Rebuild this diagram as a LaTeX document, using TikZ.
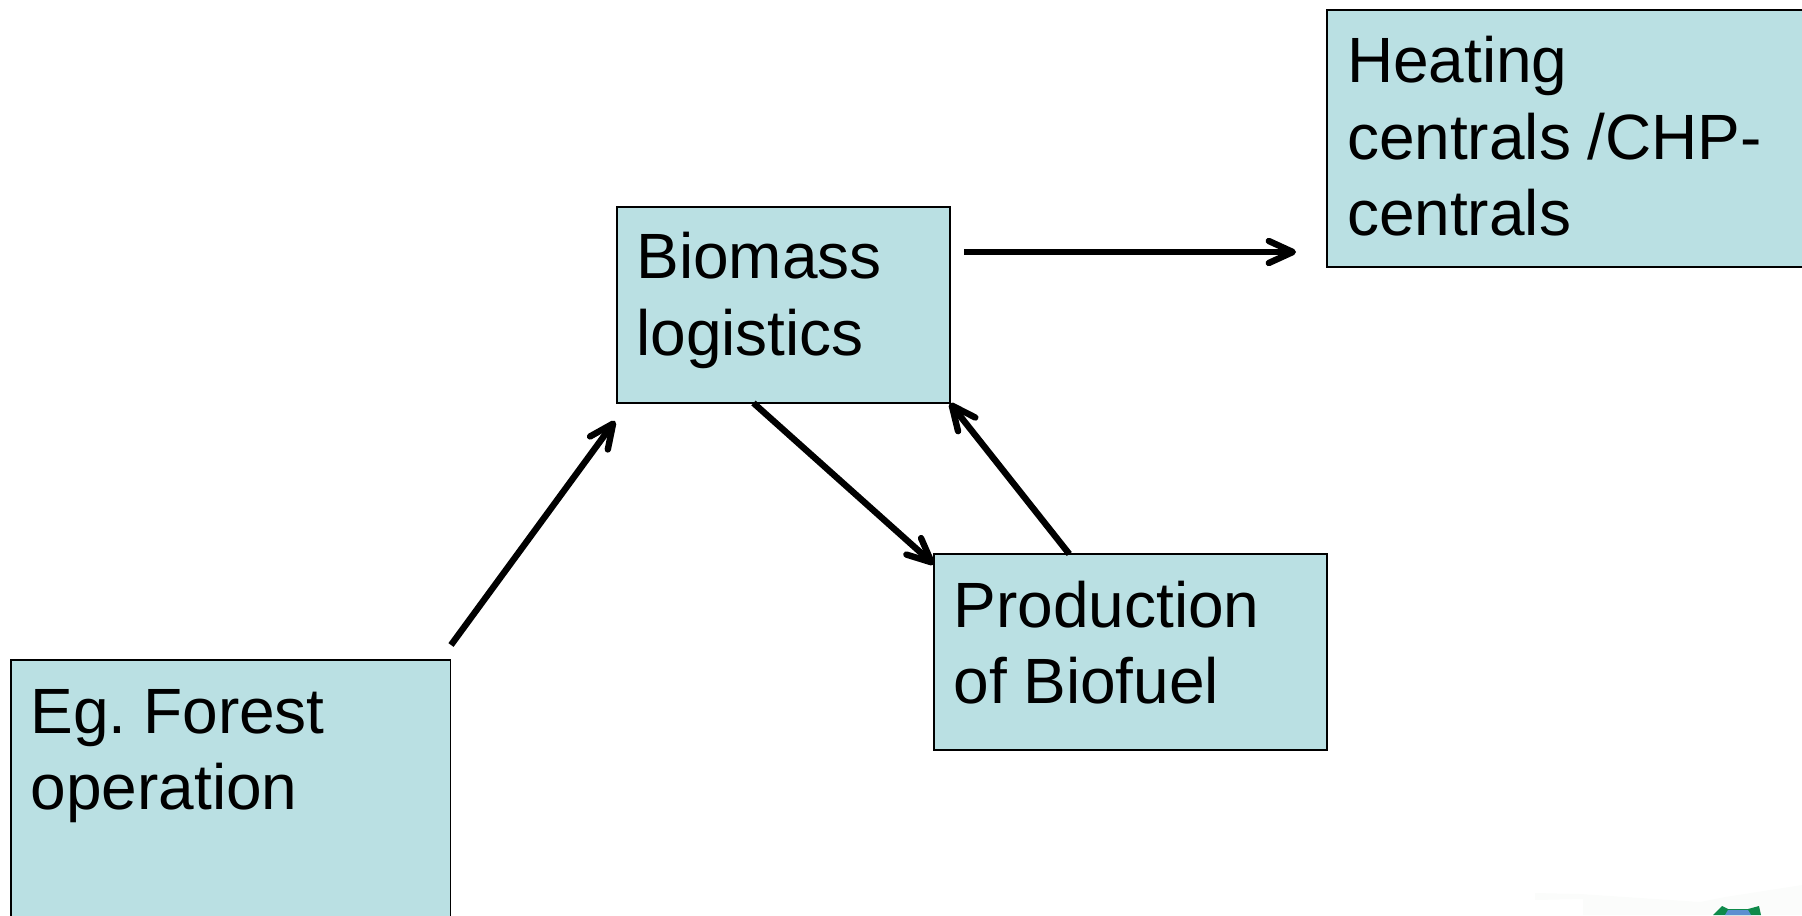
\documentclass[tikz,border=0pt]{standalone}
\usepackage{fontspec}
\setmainfont{Liberation Sans}
\usepackage{tikz}
\usetikzlibrary{arrows.meta}
\definecolor{boxblue}{HTML}{BAE0E3}
\definecolor{logogreen}{HTML}{0E8A4A}
\definecolor{logoblue}{HTML}{5C8FD0}
\definecolor{logohaze}{HTML}{FBFCFB}

\begin{document}
\begin{tikzpicture}[x=0.5pt,y=-0.5pt,
    every node/.style={outer sep=0pt},
    blockbox/.style={draw=black,fill=boxblue,line width=0.75pt,anchor=north west,inner xsep=9.7pt,inner ysep=10pt,align=left,font=\fontsize{32}{38.3}\selectfont,execute at begin node={\frenchspacing\spaceskip=8.3pt\relax}},
    flowarrow/.style={line width=3.2pt,-{Straight Barb[length=12pt,width=11pt,round]}}]
            \useasboundingbox (0,0) rectangle (1802,915);
            \clip (0,0) rectangle (1802,915);
            \fill[logohaze] (1535,893) -- (1580,894) -- (1700,902) -- (1725,897) -- (1802,885) -- (1802,915) -- (1583,915) -- (1583,899) -- (1535,900) -- cycle;
            \node[blockbox,minimum width=219.7pt,minimum height=160pt,text width=200pt,text depth=109pt] (forest) at (11,660) {Eg. Forest\\operation};
            \node[blockbox,minimum width=166pt,minimum height=98pt,text width=147pt,text depth=49.3pt] (biomass) at (617,207) {Biomass\\logistics};
            \node[blockbox,minimum width=196.5pt,minimum height=98pt,text width=177pt,text depth=48.1pt] (production) at (934,554) {Production\\of Biofuel};
            \node[blockbox,minimum width=260pt,minimum height=128.5pt,text width=240pt,text depth=79.2pt] (heating) at (1327,10) {Heating\\centrals /CHP-\\centrals};
            \coordinate (forestout) at (451,645);
            \coordinate (biomassin) at (615,421);
            \coordinate (biomassout) at (964,252);
            \coordinate (heatingin) at (1296,252);
            \draw[flowarrow] (forestout) -- (biomassin);
            \draw[flowarrow] (biomassout) -- (heatingin);
            \draw[flowarrow] (biomass.253) -- (production.156.7);
            \draw[flowarrow] (production.122) -- (biomass.south east);
            \fill[logogreen] (1713,915) -- (1722,906) -- (1728,909) -- (1748,909) -- (1759,906) -- (1761,915) -- cycle;
            \fill[logoblue] (1725,915) -- (1728,910) -- (1748,910) -- (1751,915) -- cycle;
        \end{tikzpicture}
\end{document}
